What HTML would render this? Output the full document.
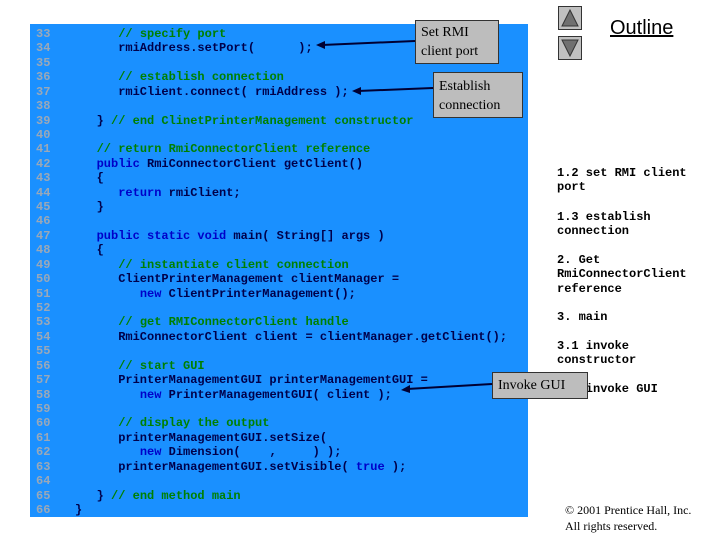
<!DOCTYPE html>
<html><head><meta charset="utf-8"><style>
body{margin:0;width:720px;height:540px;background:#fff;position:relative;overflow:hidden;font-family:"Liberation Sans",sans-serif}
#panel{position:absolute;left:30px;top:24px;width:498px;height:493px;background:#1a90ff}
pre{margin:0;position:absolute;top:27px;font:bold 12px/14.42px "Liberation Mono",monospace;color:#00004a}
.n{color:#9aa8b8}.c{color:#008000}.k{color:#0000c8}
.box{position:absolute;background:#bdbdbd;border:1px solid #333;font:14px/19px "Liberation Serif",serif;color:#000;padding:0 5px;box-sizing:border-box}
.side{position:absolute;left:557px;font:bold 12px/14.4px "Liberation Mono",monospace;color:#000}
.btn{position:absolute;left:558px;width:24px;height:24px;background:#c0c0c0;border:1px solid #333;box-sizing:border-box}
</style></head><body>
<div id="panel"></div>
<pre class="n" style="left:36px">33
34
35
36
37
38
39
40
41
42
43
44
45
46
47
48
49
50
51
52
53
54
55
56
57
58
59
60
61
62
63
64
65
66</pre>
<pre style="left:75px">      <span class="c">// specify port</span>
      rmiAddress.setPort(      );

      <span class="c">// establish connection</span>
      rmiClient.connect( rmiAddress );

   } <span class="c">// end ClinetPrinterManagement constructor</span>

   <span class="c">// return RmiConnectorClient reference</span>
   <span class="k">public</span> RmiConnectorClient getClient()
   {
      <span class="k">return</span> rmiClient;
   }

   <span class="k">public static void</span> main( String[] args )
   {
      <span class="c">// instantiate client connection</span>
      ClientPrinterManagement clientManager =
         <span class="k">new</span> ClientPrinterManagement();

      <span class="c">// get RMIConnectorClient handle</span>
      RmiConnectorClient client = clientManager.getClient();

      <span class="c">// start GUI</span>
      PrinterManagementGUI printerManagementGUI =
         <span class="k">new</span> PrinterManagementGUI( client );

      <span class="c">// display the output</span>
      printerManagementGUI.setSize(
         <span class="k">new</span> Dimension(    ,     ) );
      printerManagementGUI.setVisible( <span class="k">true</span> );

   } <span class="c">// end method main</span>
}</pre>
<div class="side" style="top:166px">1.2 set RMI client<br>port</div>
<div class="side" style="top:210px">1.3 establish<br>connection</div>
<div class="side" style="top:253px">2. Get<br>RmiConnectorClient<br>reference</div>
<div class="side" style="top:310px">3. main</div>
<div class="side" style="top:339px">3.1 invoke<br>constructor</div>
<div class="side" style="top:382px">3.2 invoke GUI</div>
<div class="box" style="left:415px;top:20px;width:84px;height:44px;padding-top:2px">Set RMI<br>client port</div>
<div class="box" style="left:433px;top:72px;width:90px;height:46px;padding-top:4px">Establish<br>connection</div>
<div class="box" style="left:492px;top:372px;width:96px;height:27px;padding-top:3px">Invoke GUI</div>
<svg width="720" height="540" style="position:absolute;left:0;top:0">
<g stroke="#000033" stroke-width="2" fill="#000033">
<line x1="415" y1="41" x2="322" y2="45"/><polygon points="316,45 325,41 325,49" stroke="none"/>
<line x1="433" y1="88" x2="358" y2="91"/><polygon points="352,91 361,87 361,95" stroke="none"/>
<line x1="492" y1="384" x2="407" y2="389"/><polygon points="401,390 410,385 410,393" stroke="none"/>
</g></svg>
<div class="btn" style="top:6px"><svg width="22" height="22"><polygon points="11,3 19,19 3,19" fill="#707070" stroke="#333"/></svg></div>
<div class="btn" style="top:36px"><svg width="22" height="22"><polygon points="3,3 19,3 11,19" fill="#707070" stroke="#333"/></svg></div>
<div style="position:absolute;left:610px;top:16px;font:20px/24px 'Liberation Sans',sans-serif;text-decoration:underline">Outline</div>
<div style="position:absolute;left:565px;top:502px;font:12px/16px 'Liberation Serif',serif">© 2001 Prentice Hall, Inc.<br>All rights reserved.</div>
</body></html>
